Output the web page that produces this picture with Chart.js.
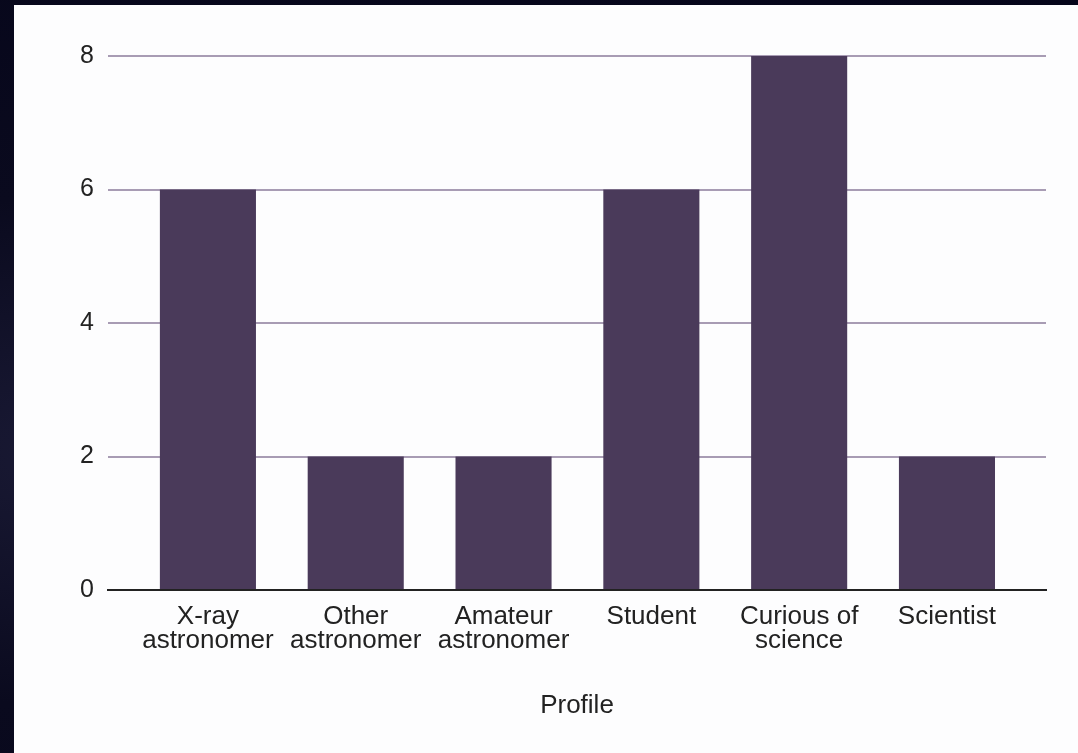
<!DOCTYPE html>
<html>
<head>
<meta charset="utf-8">
<script src="https://cdn.jsdelivr.net/npm/chart.js@4.4.1/dist/chart.umd.min.js"></script>
<style>
  html, body { margin: 0; padding: 0; }
  body {
    width: 1078px; height: 753px; overflow: hidden;
    background: radial-gradient(ellipse at 10% 60%, #1a1a35 0%, #0a0a1e 40%, #05051a 100%);
    position: relative;
  }
  #panel {
    position: absolute; left: 14px; top: 5px;
    width: 1064px; height: 748px;
    background: #fdfdfe;
  }
</style>
</head>
<body>
<div id="panel"><canvas id="myChart" width="1064" height="748"></canvas></div>
<script>
// respondents by profile
const profiles = [
  ['X-ray', 'astronomer'],
  ['Other', 'astronomer'],
  ['Amateur', 'astronomer'],
  'Student',
  ['Curious of', 'science'],
  'Scientist'
];
const counts = [6, 2, 2, 6, 8, 2];
const yTicks = [0, 2, 4, 6, 8];

const font = { family: 'Liberation Sans, Arial, sans-serif', size: 26, lineHeight: 0.92 };

// x is a linear index axis so the bars sit inset from the gridline ends
const points = counts.map((v, i) => ({ x: i, y: v }));

var ctx = document.getElementById('myChart').getContext('2d');
var myChart = new Chart(ctx, {
  type: 'bar',
  data: {
    datasets: [{
      label: 'Profile',
      data: points,
      backgroundColor: '#4a3a5a',
      borderWidth: 0,
      categoryPercentage: 1,
      barPercentage: 0.65
    }]
  },
  options: {
    responsive: false,
    animation: false,
    layout: { padding: { top: 51, right: 32, left: 0, bottom: 0 } },
    plugins: { legend: { display: false }, tooltip: { enabled: false } },
    scales: {
      x: {
        type: 'linear',
        offset: false,
        min: -0.676, max: 5.67,
        afterBuildTicks: function(scale) { scale.ticks = profiles.map((p, i) => ({ value: i })); },
        grid: { display: false, drawTicks: false },
        border: { color: '#222222', width: 2 },
        ticks: {
          color: '#222222', font: font, padding: 15, maxRotation: 0, autoSkip: false,
          callback: function(v) { return profiles[v]; }
        },
        title: { display: true, text: 'Profile', color: '#222222', font: font, padding: { top: 0, bottom: 35 } },
        afterFit: function(scale) { scale.height = 163; }
      },
      y: {
        min: 0, max: 8,
        afterBuildTicks: function(scale) { scale.ticks = yTicks.map(v => ({ value: v })); },
        grid: {
          drawTicks: false,
          lineWidth: 2,
          color: function(c) { return c.tick && c.tick.value === 0 ? 'rgba(0,0,0,0)' : '#a89cb4'; }
        },
        border: { display: false },
        ticks: { color: '#222222', font: { family: font.family, size: 25 }, padding: 14 },
        afterFit: function(scale) { scale.width = 94; }
      }
    }
  }
});
</script>
</body>
</html>
